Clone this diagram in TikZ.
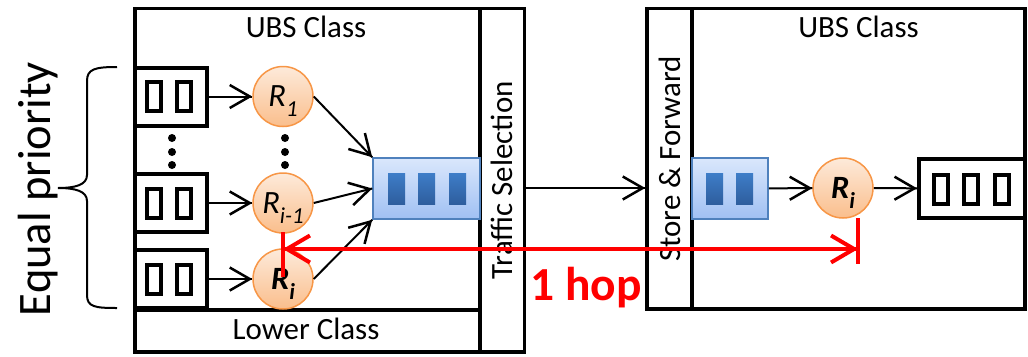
\documentclass[tikz,border=0pt]{standalone}
\usepackage{fontspec}
\setmainfont{Carlito}
\usepackage{tikz}
\usetikzlibrary{arrows.meta}
\usetikzlibrary{decorations.markings}
\tikzset{->/.style = {decoration={markings,
                                  mark=at position 1 with {\arrow{Straight Barb[length=4mm, width=4.6mm, line width=0.05cm]}}},
                      postaction={decorate}}}
\tikzset{<->/.style = {decoration={markings,
                                   mark=at position 0 with {\arrowreversed{Straight Barb[length=4.6mm, width=5.4mm]}},
                                   mark=at position 1 with {\arrow{Straight Barb[length=4.6mm, width=5.4mm]}}},
                       postaction={decorate}}}
\tikzset{frame/.style = {draw, line width = 0.07cm, inner sep = 0}}
\tikzset{queue/.style = {draw, line width = 0.08cm, inner sep = 0, minimum height = 1.16cm}}
\tikzset{slot/.style = {draw, line width = 0.08cm, inner sep = 0, minimum width = 0.28cm, minimum height = 0.58cm}}
\tikzset{router/.style = {circle, draw = morange, line width = 0.03cm, top color = lorange, bottom color = sorange,
                          inner sep = 0, minimum size = 1.2cm, text depth = 0pt, font = \fontsize{18.5}{21}\selectfont\itshape}}
\tikzset{buffer/.style = {draw = mblue, line width = 0.03cm, top color = lblue, bottom color = sblue, inner sep = 0, minimum height = 1.22cm}}
\tikzset{bar/.style = {top color = dblue, bottom color = nblue, inner sep = 0, minimum width = 0.34cm, minimum height = 0.62cm}}
\tikzset{circ/.style = {fill, circle, inner sep = 0, minimum size = 0.16cm}}
\tikzset{flow/.style = {line width = 0.04cm}}
\tikzset{span/.style = {mred, line width = 0.08cm}}
\definecolor{mblue}{RGB}{79,129,189}
\definecolor{lblue}{RGB}{218,231,252}
\definecolor{sblue}{RGB}{160,192,243}
\definecolor{dblue}{RGB}{62,125,200}
\definecolor{nblue}{RGB}{46,94,158}
\definecolor{morange}{RGB}{247,150,70}
\definecolor{lorange}{RGB}{253,234,218}
\definecolor{sorange}{RGB}{250,190,140}
\definecolor{mred}{RGB}{255,0,0}
\newcommand{\rname}[1]{R\raisebox{-5.5pt}{\fontsize{13}{13}\selectfont #1}}

\begin{document}
\begin{tikzpicture}[font = \fontsize{17.6}{21}\selectfont]
    \useasboundingbox (0, 0) rectangle (20.56, 7.12);

    % sending side
    \node (sel) [frame, minimum width = 0.89cm, minimum height = 6.87cm] at (10.045, 3.515) {\rotatebox{90}{Traffic Selection}};
    \draw [frame] (2.7, 0.08) rectangle (10.49, 6.95);
    \draw [frame] (2.7, 0.92) -- (9.6, 0.92);
    \node (ubsa) at (6.12, 6.58) {UBS Class};
    \node (lower) at (6.12, 0.54) {Lower Class};

    \foreach \y/\n/\lab in {5.19/1/{\rname{1}},
                            3.06/2/{\rname{i-1}},
                            1.54/3/{\bfseries\rname{i}}} {
      \node (q\n) [queue, minimum width = 1.44cm] at (3.42, \y) {};
      \node (qa\n) [slot] at (3.08, \y) {};
      \node (qb\n) [slot] at (3.68, \y) {};
      \node (r\n) [router] at (5.66, \y) {\lab};
      \draw [flow, ->] (q\n) -- (r\n);
    }

    \foreach \y [count = \k] in {4.36, 4.08, 3.82} {
      \node (dq\k) [circ] at (3.44, \y) {};
      \node (dr\k) [circ] at (5.7, \y) {};
    }

    \node (bufa) [buffer, minimum width = 2.14cm] at (8.53, 3.35) {};
    \foreach \x [count = \k] in {7.93, 8.53, 9.15} {
      \node (ba\k) [bar] at (\x, 3.35) {};
    }

    \draw [flow, ->] (r1.east) -- (bufa.north west);
    \draw [flow, ->] (r2.east) -- (bufa.west);
    \draw [flow, ->] (r3.east) -- (bufa.south west);

    \node (prio) [rotate = 90, anchor = base, font = \fontsize{26.5}{30}\selectfont] at (1.0, 3.34) {Equal priority};
    \draw [line width = 0.04cm] (2.34, 5.78) .. controls (1.9, 5.78) and (1.74, 5.74) .. (1.74, 5.5)
      -- (1.74, 3.62) .. controls (1.74, 3.42) and (1.5, 3.36) .. (1.16, 3.36)
      .. controls (1.5, 3.36) and (1.74, 3.30) .. (1.74, 3.10)
      -- (1.74, 1.22) .. controls (1.74, 0.98) and (1.9, 0.96) .. (2.34, 0.96);

    % receiving side
    \node (fwd) [frame, minimum width = 0.9cm, minimum height = 6.01cm] at (13.39, 3.945) {\rotatebox{90}{Store \& Forward}};
    \draw [frame] (12.94, 0.94) rectangle (20.5, 6.95);
    \node (ubsb) at (17.17, 6.58) {UBS Class};

    \node (bufb) [buffer, minimum width = 1.52cm] at (14.6, 3.35) {};
    \node (bb1) [bar] at (14.29, 3.35) {};
    \node (bb2) [bar] at (14.89, 3.35) {};
    \node (ri) [router] at (16.86, 3.36) {\bfseries\rname{i}};
    \node (out) [queue, minimum width = 2.12cm, minimum height = 1.18cm] at (19.44, 3.35) {};
    \foreach \x [count = \k] in {18.81, 19.42, 20.03} {
      \node (os\k) [slot] at (\x, 3.33) {};
    }

    \draw [flow, ->] (sel.east |- ri) -- (fwd.west |- ri);
    \draw [flow, ->] (bufb) -- (ri);
    \draw [flow, ->] (ri) -- (out);

    % one hop
    \coordinate (hopa) at (5.66, 2.14);
    \coordinate (hopb) at (17.16, 2.14);
    \draw [span] (5.66, 2.48) -- (5.66, 1.58);
    \draw [span] (17.16, 2.76) -- (17.16, 1.84);
    \draw [span, <->] (hopa) -- (hopb);
    \node (hop) [anchor = base, text = mred, font = \bfseries\fontsize{27}{32}\selectfont] at (11.72, 1.12) {1 hop};
\end{tikzpicture}
\end{document}
